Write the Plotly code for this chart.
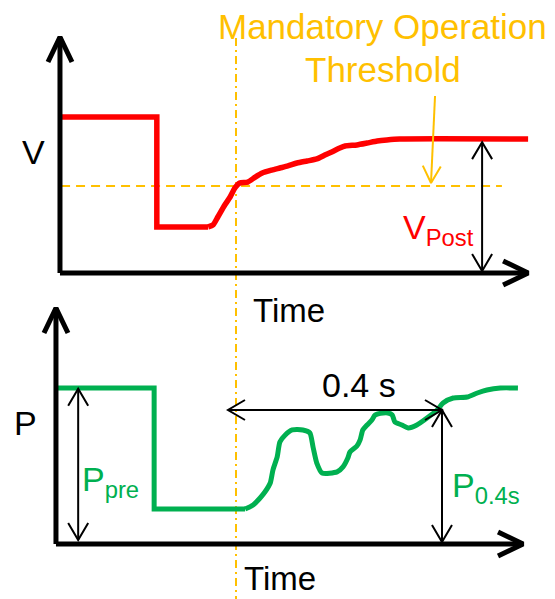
import plotly.graph_objects as go

# ---------------- data ----------------
# time in ms (0 = instant marked by the dash-dot line), values in per-unit
V_TIME = [-327, -148, -148, -52, -43, -34, -21, -11, -2, 7, 22, 36, 49, 67, 82, 97, 114,
          133, 151, 166, 179, 194, 204, 226, 245, 264, 282, 306, 546]
V_PU = [1.000, 1.000, 0.295, 0.295, 0.308, 0.359, 0.436, 0.487, 0.545, 0.577, 0.583, 0.615,
        0.641, 0.660, 0.673, 0.686, 0.705, 0.718, 0.731, 0.756, 0.776, 0.801, 0.814, 0.821,
        0.833, 0.846, 0.853, 0.859, 0.859]
V_STEP_POINTS = 4

P_TIME = [-337, -153, -153, 17, 32, 45, 54, 64, 69, 77, 82, 92, 105, 125, 138, 144, 151, 161,
          189, 200, 209, 213, 226, 232, 237, 245, 254, 260, 275, 284, 292, 297, 310, 322, 338,
          357, 376, 387, 406, 432, 451, 469, 494, 527]
P_PU = [1.000, 1.000, 0.224, 0.224, 0.250, 0.295, 0.333, 0.391, 0.474, 0.558, 0.654, 0.699,
        0.731, 0.731, 0.712, 0.622, 0.519, 0.455, 0.462, 0.494, 0.551, 0.590, 0.628, 0.667,
        0.731, 0.763, 0.795, 0.827, 0.840, 0.840, 0.827, 0.782, 0.763, 0.744, 0.763, 0.808,
        0.859, 0.904, 0.936, 0.942, 0.968, 0.987, 1.000, 1.000]
P_STEP_POINTS = 4

THRESHOLD = 0.558          # mandatory operation threshold (pu)
THRESH_SPAN = [-327, 497]  # extent of threshold line (ms)
V_POST = 0.859
P_PRE = 1.0
WINDOW_START = -15
WINDOW = 400               # 0.4 s
P_04 = 0.859

# ---------------- layout / scale constants ----------------
W, H = 555, 599
X0_PX, PX_PER_MS = 236, 0.535
V0_PY, P0_PY, PX_PER_PU = 273, 544, 156.0

RED, GREEN, GOLD, BLACK = "#FF0000", "#00B050", "#FFC000", "#000000"
FONT = "Liberation Sans, Arial, sans-serif"

x_range = [-X0_PX / PX_PER_MS, (W - X0_PX) / PX_PER_MS]
v_range = [(V0_PY - H) / PX_PER_PU, V0_PY / PX_PER_PU]
p_range = [(P0_PY - H) / PX_PER_PU, P0_PY / PX_PER_PU]

fig = go.Figure()


def line(xs, ys, color, width, yaxis="y", dash=None, shape="linear"):
    fig.add_trace(go.Scatter(x=xs, y=ys, mode="lines", yaxis=yaxis, hoverinfo="skip",
                             line=dict(color=color, width=width, dash=dash, shape=shape,
                                       smoothing=0.6 if shape == "spline" else None)))


def chevron(tip_t, tip_v, dirx, diry, length, half, color, width, yaxis="y"):
    """Open arrow head; dir is the pointing direction in screen pixels (y down)."""
    nx, ny = -diry, dirx
    pts = []
    for s in (1, -1):
        px = -length * dirx + s * half * nx
        py = -length * diry + s * half * ny
        pts.append((tip_t + px / PX_PER_MS, tip_v - py / PX_PER_PU))
    xs = [pts[0][0], tip_t, pts[1][0]]
    ys = [pts[0][1], tip_v, pts[1][1]]
    line(xs, ys, color, width, yaxis)


def double_arrow_v(t, v0, v1, yaxis):
    line([t, t], [v0, v1], BLACK, 2, yaxis)
    chevron(t, v1, 0, -1, 17, 10, BLACK, 2, yaxis)
    chevron(t, v0, 0, 1, 17, 10, BLACK, 2, yaxis)


# dash-dot event line (spans both panels)
line([0, 0], [(V0_PY - 38) / PX_PER_PU, v_range[0]], GOLD, 2, "y", dash="8px,4px,2px,4px")

# ---- top panel (V) ----
AX_TOP_T0, AX_TOP_T1, AX_VTOP = -329, 546, 1.513
line([THRESH_SPAN[0], THRESH_SPAN[1]], [THRESHOLD, THRESHOLD], GOLD, 2, "y", dash="9px,6px")
line(V_TIME[:V_STEP_POINTS], V_PU[:V_STEP_POINTS], RED, 5.5, "y")
line(V_TIME[V_STEP_POINTS - 1:], V_PU[V_STEP_POINTS - 1:], RED, 5.5, "y", shape="spline")
line([AX_TOP_T0, AX_TOP_T0], [0, AX_VTOP], BLACK, 5, "y")
line([AX_TOP_T0, AX_TOP_T1], [0, 0], BLACK, 5, "y")
chevron(AX_TOP_T0, AX_VTOP, 0, -1, 25, 12, BLACK, 5, "y")
chevron(AX_TOP_T1, 0, 1, 0, 25, 12, BLACK, 5, "y")
double_arrow_v(460, 0.013, V_POST - 0.02, "y")
# threshold pointer
line([372, 364.5], [1.135, 0.577], GOLD, 2, "y")
chevron(364.5, 0.577, -0.045, 0.999, 17, 9, GOLD, 2, "y")

# ---- bottom panel (P) ----
AX_BOT_T0, AX_BOT_T1, AX_PTOP = -336.5, 536.5, 1.513
line(P_TIME[:P_STEP_POINTS], P_PU[:P_STEP_POINTS], GREEN, 5, "y2")
line(P_TIME[P_STEP_POINTS - 1:], P_PU[P_STEP_POINTS - 1:], GREEN, 5, "y2", shape="spline")
line([AX_BOT_T0, AX_BOT_T0], [0, AX_PTOP], BLACK, 5, "y2")
line([AX_BOT_T0, AX_BOT_T1], [0, 0], BLACK, 5, "y2")
chevron(AX_BOT_T0, AX_PTOP, 0, -1, 25, 12, BLACK, 5, "y2")
chevron(AX_BOT_T1, 0, 1, 0, 25, 12, BLACK, 5, "y2")
double_arrow_v(-295, 0.025, P_PRE - 0.005, "y2")
double_arrow_v(WINDOW_START + WINDOW, 0.013, P_04, "y2")
line([WINDOW_START, WINDOW_START + WINDOW], [P_04, P_04], BLACK, 2, "y2")
chevron(WINDOW_START, P_04, -1, 0, 17, 10, BLACK, 2, "y2")
chevron(WINDOW_START + WINDOW, P_04, 1, 0, 17, 10, BLACK, 2, "y2")


# ---------------- text ----------------
def label(text, px, py, size, color, xanchor="center"):
    fig.add_annotation(text=text, x=px / W, y=1 - py / H, xref="paper", yref="paper",
                       xanchor=xanchor, yanchor="middle", showarrow=False,
                       font=dict(family=FONT, size=size, color=color))


label("Mandatory Operation", 382, 26, 35, GOLD)
label("Threshold", 383, 70, 35, GOLD)
label("V", 33, 152, 34, BLACK)
label("Time", 289, 310, 33, BLACK)
label("V<sub>Post</sub>", 401, 229, 34, RED, xanchor="left")
label("P", 25, 423, 34, BLACK)
label("0.4 s", 359, 385, 34, BLACK)
label("P<sub>pre</sub>", 80, 481, 34, GREEN, xanchor="left")
label("P<sub>0.4s</sub>", 450, 487, 34, GREEN, xanchor="left")
label("Time", 280, 578, 33, BLACK)

fig.update_layout(
    width=W, height=H, margin=dict(l=0, r=0, t=0, b=0),
    paper_bgcolor="white", plot_bgcolor="white", showlegend=False,
    xaxis=dict(range=x_range, visible=False, fixedrange=True),
    yaxis=dict(range=v_range, visible=False, fixedrange=True),
    yaxis2=dict(range=p_range, visible=False, overlaying="y", fixedrange=True),
)

fig.write_html("out.html", config={"displayModeBar": False},
               post_script="document.body.style.margin='0px';"
                           "document.body.style.overflow='hidden';")
